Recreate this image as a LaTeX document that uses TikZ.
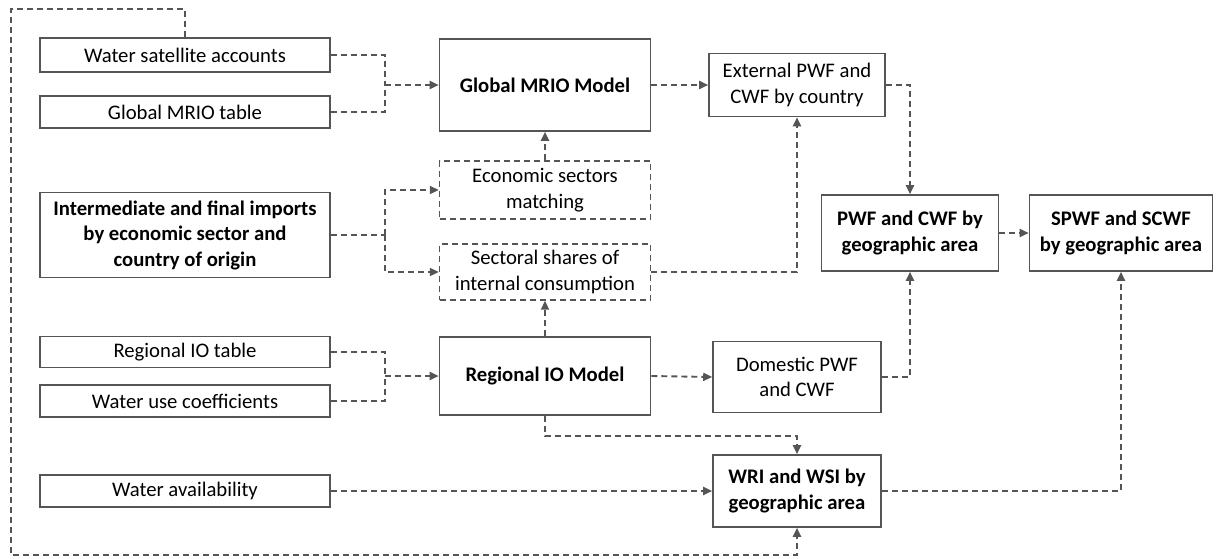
\documentclass[tikz,border=0pt]{standalone}
\usepackage{fontspec}
\setmainfont{Carlito}
\usetikzlibrary{arrows.meta}
\definecolor{lc}{HTML}{555555}
\begin{document}
\begin{tikzpicture}[x=1pt,y=-1pt,
  box/.style={draw=lc,line width=1.6pt,inner sep=0pt,align=center,font=\fontsize{20.7}{25.5}\selectfont},
  dbox/.style={box,dashed,line width=1.4pt,dash pattern=on 6pt off 4pt},
  bbox/.style={box,font=\fontsize{20.7}{25.5}\selectfont\bfseries},
  conn/.style={draw=lc,line width=1.9pt,dash pattern=on 6pt off 4pt},
  arr/.style={conn,-{Triangle[length=9pt,width=8pt]}}]
\useasboundingbox (0,0) rectangle (1216,558);
% left inputs
\node[box,minimum width=290pt,minimum height=34pt] (wsa) at (185,55) {Water satellite accounts};
\node[box,minimum width=290pt,minimum height=32pt] (gmt) at (185,112) {Global MRIO table};
\node[bbox,minimum width=290pt,minimum height=85pt] (imp) at (185,235) {Intermediate and final imports\\by economic sector and\\country of origin};
\node[box,minimum width=290pt,minimum height=31pt] (rit) at (185,352) {Regional IO table};
\node[box,minimum width=290pt,minimum height=32pt] (wuc) at (185,401) {Water use coefficients};
\node[box,minimum width=290pt,minimum height=32pt] (wav) at (185,491) {Water availability};
% middle
\node[bbox,minimum width=211pt,minimum height=92pt] (gm) at (545,85) {Global MRIO Model};
\node[dbox,minimum width=211pt,minimum height=58pt] (esm) at (545,190) {Economic sectors\\matching};
\node[dbox,minimum width=211pt,minimum height=56pt] (ssi) at (545,272) {Sectoral shares of\\internal consumption};
\node[bbox,minimum width=211pt,minimum height=78pt] (rm) at (545,376) {Regional IO Model};
% right
\node[box,minimum width=176pt,minimum height=63pt] (ext) at (797,85) {External PWF and\\CWF by country};
\node[box,minimum width=168pt,minimum height=71pt] (dom) at (797,377) {Domestic PWF\\and CWF};
\node[bbox,minimum width=168pt,minimum height=72pt] (wri) at (797,491) {WRI and WSI by\\geographic area};
\node[bbox,minimum width=177pt,minimum height=76pt] (pwf) at (910,233) {PWF and CWF by\\geographic area};
\node[bbox,minimum width=183pt,minimum height=76pt] (spwf) at (1121,233) {SPWF and SCWF\\by geographic area};
% junction coordinates
\coordinate (j1) at (385,85);
\coordinate (j2) at (385,235);
\coordinate (j3) at (385,376);
\coordinate (lt) at (11,9);
\coordinate (lb) at (11,555);
% connectors
\draw[conn] (wsa.east) -| (j1);
\draw[conn] (gmt.east) -| (j1);
\draw[arr] (j1) -- (gm.west);
\draw[arr] (gm.east) -- (ext.west);
\draw[arr] (esm.north) -- (gm.south);
\draw[conn] (imp.east) -- (j2);
\draw[arr] (j2) |- (esm.west);
\draw[arr] (j2) |- (ssi.west);
\draw[arr] (rm.north) -- (ssi.south);
\draw[arr] (ssi.east) -| (ext.south);
\draw[arr] (ext.east) -| (pwf.north);
\draw[arr] (pwf.east) -- (spwf.west);
\draw[conn] (rit.east) -| (j3);
\draw[conn] (wuc.east) -| (j3);
\draw[arr] (j3) -- (rm.west);
\draw[arr] (rm.east) -- (dom.west);
\draw[arr] (dom.east) -| (pwf.south);
\draw[arr] (rm.south) |- ++(0,20) -| (wri.north);
\draw[arr] (wav.east) -- (wri.west);
\draw[arr] (wri.east) -| (spwf.south);
\draw[arr] (wsa.north) |- (lt) -- (lb) -| (wri.south);
\end{tikzpicture}
\end{document}
